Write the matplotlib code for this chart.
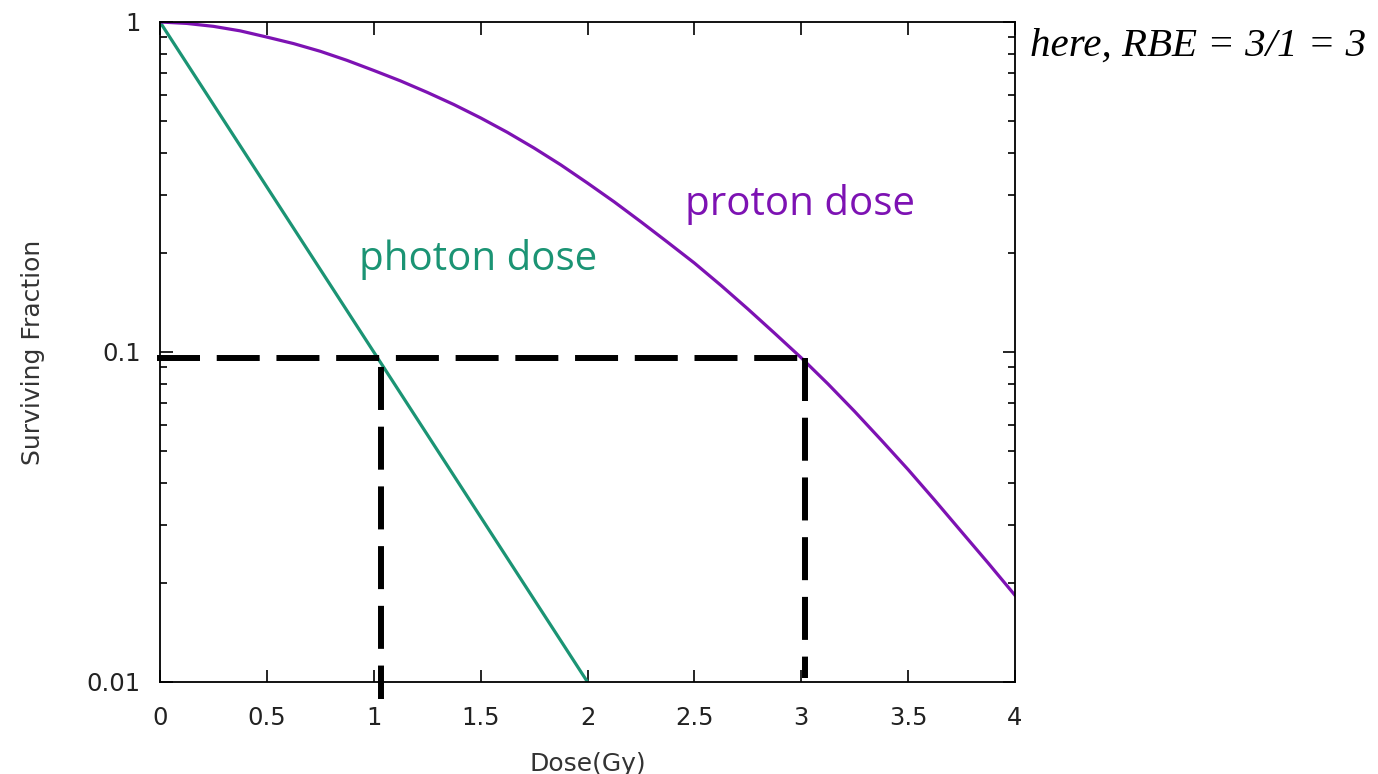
import matplotlib
matplotlib.use("Agg")
import matplotlib.pyplot as plt
from matplotlib.ticker import FixedLocator, LogLocator, NullFormatter

# Data
photon_dose = [0.0, 2.0]
photon_sf = [1.0, 0.01]

proton_dose = [0.0, 0.125, 0.25, 0.375, 0.5, 0.625, 0.75, 0.875, 1.0, 1.125, 1.25, 1.375,
               1.5, 1.625, 1.75, 1.875, 2.0, 2.125, 2.25, 2.375, 2.5, 2.625, 2.75, 2.875,
               3.0, 3.125, 3.25, 3.375, 3.5, 3.625, 3.75, 3.875, 4.0]
proton_sf = [1.0, 0.99, 0.97, 0.94, 0.90, 0.86, 0.815, 0.765, 0.713, 0.663, 0.612, 0.562,
             0.512, 0.463, 0.415, 0.369, 0.325, 0.285, 0.248, 0.215, 0.186, 0.159, 0.135, 0.114,
             0.096, 0.080, 0.066, 0.054, 0.044, 0.0355, 0.0285, 0.0229, 0.0183]

ref_sf = 0.096
photon_ref_dose = 1.034
proton_ref_dose = 3.018

x_ticks = [0, 0.5, 1, 1.5, 2, 2.5, 3, 3.5, 4]
x_ticklabels = ["0", "0.5", "1", "1.5", "2", "2.5", "3", "3.5", "4"]
y_ticks = [0.01, 0.1, 1]
y_ticklabels = ["0.01", "0.1", "1"]

photon_color = "#1b9474"
proton_color = "#7d12b3"

fig = plt.figure(figsize=(13.78, 7.74), dpi=100)
ax = fig.add_axes([0.1161, 0.1189, 0.6205, 0.8527])

ax.set_yscale("log")
ax.set_xlim(0, 4)
ax.set_ylim(0.01, 1)

ax.plot(photon_dose, photon_sf, color=photon_color, lw=2.3, solid_capstyle="butt")
ax.plot(proton_dose, proton_sf, color=proton_color, lw=2.3)

lw_d = 4.3
ax.plot([-0.014, proton_ref_dose], [ref_sf, ref_sf], color="black", lw=lw_d,
        linestyle=(0, (7.2, 2.8)), clip_on=False)
ax.plot([photon_ref_dose, photon_ref_dose], [ref_sf, 0.00888], color="black", lw=lw_d,
        linestyle=(8.5, (7.2, 2.8)), clip_on=False)
ax.plot([proton_ref_dose, proton_ref_dose], [ref_sf, 0.0103], color="black", lw=lw_d,
        linestyle=(0, (7.2, 2.8)), clip_on=False)

ax.xaxis.set_major_locator(FixedLocator(x_ticks))
ax.set_xticklabels(x_ticklabels)
ax.yaxis.set_major_locator(FixedLocator(y_ticks))
ax.set_yticklabels(y_ticklabels)
ax.yaxis.set_minor_locator(LogLocator(base=10, subs=range(2, 10)))
ax.yaxis.set_minor_formatter(NullFormatter())

ax.tick_params(axis="both", which="major", direction="in", length=9, width=1.2,
               top=True, right=True, labelsize=17.5, colors="black")
ax.tick_params(axis="x", which="major", pad=17)
ax.tick_params(axis="y", which="major", pad=14)
ax.tick_params(axis="both", which="minor", direction="in", length=5, width=1.2,
               top=True, right=True)
for lab in ax.get_xticklabels() + ax.get_yticklabels():
    lab.set_color("#222222")
for s in ax.spines.values():
    s.set_linewidth(1.3)

ax.set_xlabel("Dose(Gy)", fontsize=18, color="#333333", labelpad=16)
ax.set_ylabel("Surviving Fraction", fontsize=18, color="#333333", labelpad=30)

ax.text(1.488, 0.190, "photon dose", color=photon_color, fontsize=29, family="Open Sans",
        ha="center", va="center")
ax.text(2.994, 0.279, "proton dose", color=proton_color, fontsize=29, family="Open Sans",
        ha="center", va="center")

fig.text(1030 / 1378, 1 - 46 / 774, "here, RBE = 3/1 = 3", fontsize=29.5, style="italic",
         family="Liberation Serif", ha="left", va="center", color="black")

fig.savefig("out.png", dpi=100)
